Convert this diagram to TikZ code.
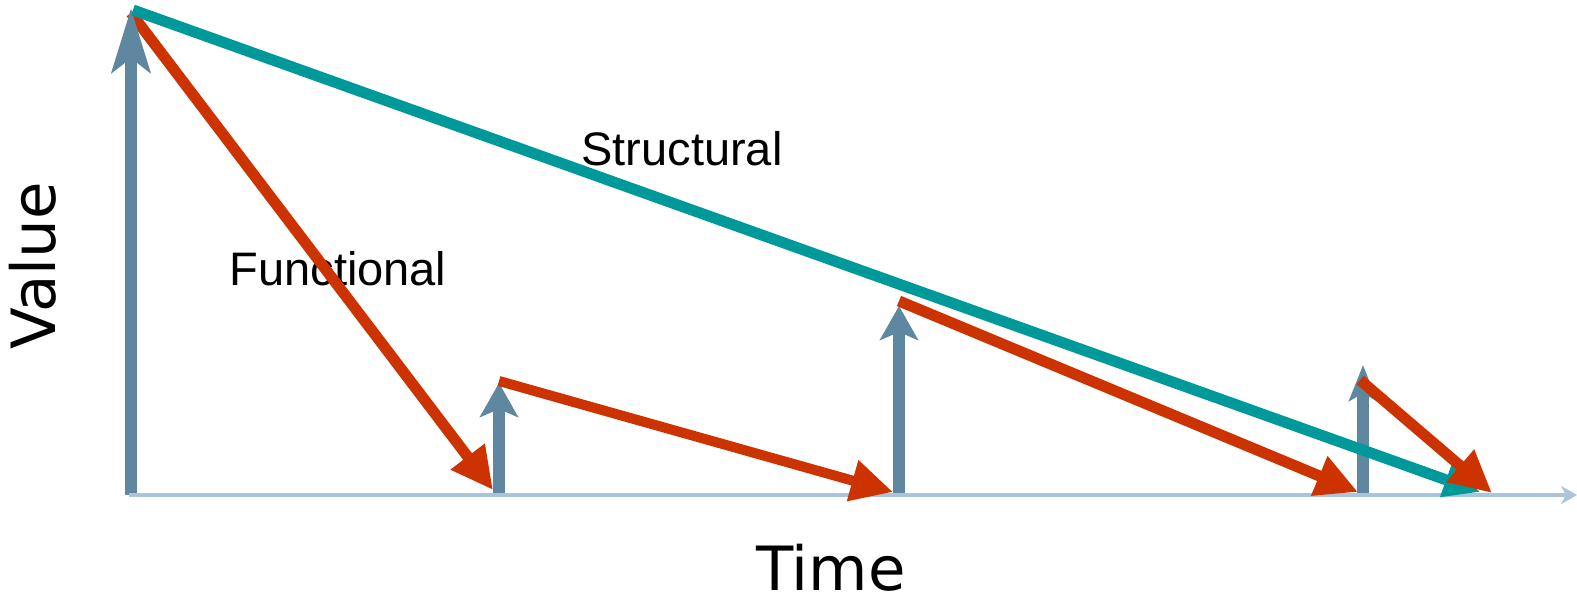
\documentclass[tikz,border=0pt]{standalone}
\usepackage{fontspec}
\setmainfont{Liberation Sans}
\newfontfamily\axisfont{DejaVu Sans}
\usepackage{xcolor}
\usepackage{tikz}
\usetikzlibrary{arrows.meta}

\definecolor{valueblue}{RGB}{95,135,160}
\definecolor{structteal}{RGB}{0,153,153}
\definecolor{funcred}{RGB}{204,51,0}
\definecolor{axisblue}{RGB}{169,196,219}

\begin{document}
\begin{tikzpicture}[x=1pt, y=-1pt,
    gain/.style={draw=valueblue, line width=12pt, -{Stealth[length=34pt,width=38pt,inset=8pt]}},
    decay/.style={draw=funcred, line width=11pt, -{Triangle[length=42pt,width=40pt]}},
    label/.style={anchor=base, inner sep=0pt, font=\fontsize{47}{51}\selectfont},
    axislabel/.style={anchor=base, inner sep=0pt, font=\axisfont\fontsize{61}{66}\selectfont}]

    \useasboundingbox (0,0) rectangle (1577,602);

    % points on the time axis
    \coordinate (o) at (129,495);
    \coordinate (t2) at (499,495);
    \coordinate (t3) at (899,495);
    \coordinate (t4) at (1363,495);
    \coordinate (tmax) at (1577,495);

    % value after each investment
    \coordinate (v1) at (131,8);
    \coordinate (v2) at (499,383);
    \coordinate (v3) at (899,306);
    \coordinate (v4) at (1363,365);

    % start and end of each decay
    \coordinate (s1) at (131,13);
    \coordinate (s2) at (499,381);
    \coordinate (s3) at (899,301);
    \coordinate (s4) at (1360,380);
    \coordinate (f1) at (493,490);
    \coordinate (f2) at (893,492);
    \coordinate (f3) at (1358,492);
    \coordinate (f4) at (1492,493);
    \coordinate (sEnd) at (1480,492);

    \node[label] (func) at (338,285) {Functional};
    \node[axislabel, rotate=90] (value) at (55,266) {Value};
    \node[axislabel] (time) at (831,590) {Time};

    \path[decay] (s1) -- (f1);

    \path[gain, -{Stealth[length=64pt,width=38pt,inset=14pt]}] (131,495) -- (v1);
    \path[gain] (t2) -- (v2);
    \path[gain] (t3) -- (v3);
    \path[gain, -{Stealth[length=36pt,width=28pt,inset=8pt]}] (t4) -- (v4);

    \path[draw=axisblue, line width=4pt, -{Stealth[length=16pt,width=18pt,inset=5pt]}] (o) -- (tmax);

    \path[draw=structteal, line width=11pt, -{Triangle[length=36pt,width=34pt]}] (133,10) -- (sEnd);

    \path[decay, line width=10pt] (s2) -- (f2);
    \path[decay] (s3) -- (f3);
    \path[decay] (s4) -- (f4);

    \node[label] (struct) at (682,165) {Structural};

\end{tikzpicture}
\end{document}
